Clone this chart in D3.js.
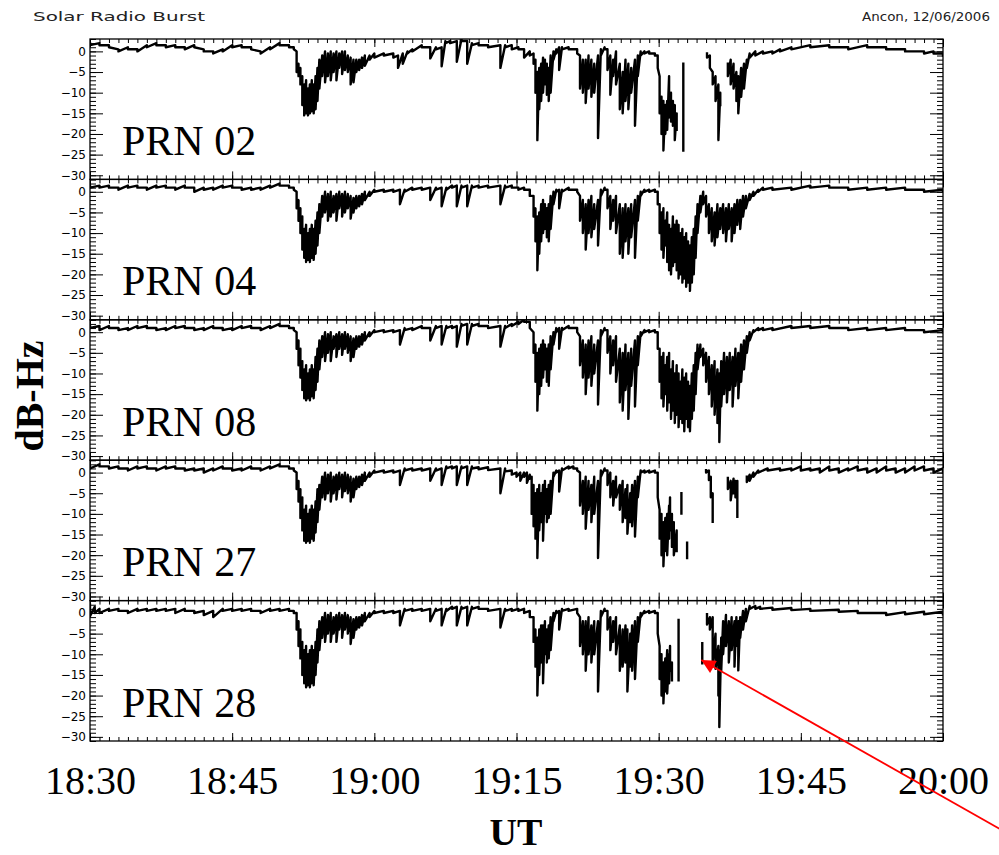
<!DOCTYPE html>
<html><head><meta charset="utf-8">
<script src="https://cdn.jsdelivr.net/npm/d3@7"></script>
<style>body{margin:0;background:#fff}svg{display:block}</style>
</head><body>
<svg id="c" width="999" height="855"></svg>
<script>
// ---- data (time in minutes after 18:30 UT; rows = [minute, upper dB-Hz, lower dB-Hz]; null = data gap)
const xTickMinutes = [0, 15, 30, 45, 60, 75, 90];
const xTickLabels = ["18:30", "18:45", "19:00", "19:15", "19:30", "19:45", "20:00"];
const yTickValues = [0, -5, -10, -15, -20, -25, -30];
const yDomain = [-31, 3];
const prnNames = ["PRN 02", "PRN 04", "PRN 08", "PRN 27", "PRN 28"];

const prn02 = [
[0,2,1.5],[1,2,1.5],[2,1.5,1],[3,0.5,0],[4,1,0.5],[5,0.5,0],[6,1.5,1],[7,2,1.5],[8,1.5,1],[9,1.5,1],[10,1,0.5],[11,1.5,1],[12,0.5,0],[13,0,-0.5],[14,0.5,0],[15,1.5,1],[16,1.5,1],[17,1,0.5],[18,0,-0.5],[19,1,0.5],[20,2,1.5],[21,1.5,1],[21.5,1,0.5],
[21.8,0,-5],[22,-3,-6],[22.2,-4,-8],[22.4,-6,-13],[22.6,-8,-15.5],[22.8,-7,-15],[23,-9,-15.5],[23.2,-8,-15],[23.4,-7,-14.5],[23.6,-8,-15],[23.8,-6,-14],[24,-4,-12],[24.2,-2,-9],[24.5,-1,-6],[24.8,0,-7.5],[25.1,-0.5,-6],[25.4,0,-7],[25.7,-0.5,-5],[26,0,-7],[26.3,-0.5,-4],[26.6,0,-5.5],[26.9,0,-4.5],[27.2,-1,-5],[27.5,-1.5,-8],[27.8,-2,-7.5],[28.1,-2,-5],[28.4,-2,-4.5],[28.7,-1.5,-4],[29,-1,-3.5],[29.5,-1,-2],[30,-0.5,-1.5],[31,-0.5,-1],[32,-0.5,-1.5],[32.5,-1,-4],[33,-0.5,-3],[33.5,0,-0.5],[34,0.5,0],[35,1.5,1],[35.9,1,-1.7],[36.5,1,0.5],[37.1,1,-3.6],[37.5,2.5,2],[38,2.5,2],[38.7,2.5,-2.5],[39.2,3,2.5],[39.8,2.5,-3],[40.3,2,1.5],[41,2,1.5],[42,1.5,1],[43.3,1.5,-4],[43.8,1.5,1],[44.5,1.5,0.5],[45.2,1,0.5],[45.8,0.5,-1.5],[46.4,0,-1],[46.8,-0.5,-3],[47,-2,-10],[47.2,-5,-21.5],[47.4,-4,-14],[47.6,-3,-12],[47.8,-1.5,-10],[48,-2,-8],[48.2,-3,-10.5],[48.4,-4,-12],[48.6,-1,-10],[48.9,0,-2],[49.2,0.5,-0.5],[49.5,1,-4.5],[49.8,1,0.5],[50.5,1,0.5],[51.4,0.5,-0.5],[51.7,-1,-9],[52,-2,-10],[52.3,-2,-12.5],[52.6,-1,-9],[52.9,-2,-11],[53.2,-3,-10],[53.6,-1,-21],[53.9,0.5,-1],[54.3,1,0.5],[54.6,0.5,-4.5],[54.9,-1,-10.5],[55.2,-2,-6],[55.5,0,-8],[55.9,-3,-14],[56.2,-5,-15],[56.5,-2,-12],[56.8,-3,-14],[57.1,-4,-10],[57.5,-2,-18],[57.8,-1,-6],[58.1,0,-1],[58.5,0,-0.5],[59,0,-0.5],[59.6,-0.5,-1],[59.9,-1,-4],[60.1,-6,-15],[60.3,-11,-20],[60.5,-12,-24],[60.7,-13,-20],[60.9,-12,-19],[61.1,-6,-16],[61.3,-10,-17],[61.5,-12,-18],[61.7,-13,-21.5],[61.9,-15,-19],null,
[62.6,-3,-24],null,
[65.1,-0.5,-1.5],[65.4,-1,-4],[65.7,-5,-8],[66,-6,-12],[66.3,-8,-21.5],[66.5,-10,-13],null,
[67.3,-3,-6],[67.6,-2,-8],[67.9,-3,-9],[68.2,-5,-12],[68.4,-6,-15],[68.7,-4,-11],[69,-3,-9],[69.3,-2,-4],[69.6,-0.5,-1.5],[70.2,0,-1],[71,0,-0.5],[72,0,-0.5],[72.8,0.5,0],[74,1,0.5],[76,1.5,1],[78,1.5,1],[80,1,0.5],[82,1.5,1],[84,1,0.5],[86,0.5,0],[88,0,-0.5],[89,0,-0.5],[90,-0.5,-1]
];

const prn04 = [
[0,1.5,1],[1,1.5,1],[2,1.5,1],[3,1,0.5],[4,1.5,1],[5,1.5,1],[6,1,0.5],[7,1.5,1],[8,1.5,1],[9,1,0.5],[10,1.5,1],[11,1,0],[12,1,0.5],[13,1,0.5],[14,1.5,1],[15,1.5,1],[16,1,0.5],[17,1,0.5],[18,1,0.5],[19,1.5,1],[20,2,1.5],[21,1.5,1],[21.5,1,0.5],
[21.8,0,-4],[22,-2,-7],[22.2,-4,-10],[22.4,-6,-14],[22.6,-9,-16],[22.8,-8,-17],[23,-10,-16.5],[23.2,-9,-17],[23.4,-8,-16],[23.6,-9,-16.5],[23.8,-7,-15],[24,-5,-13],[24.2,-3,-10],[24.5,-1,-6],[24.8,0,-5],[25.1,-0.5,-7],[25.4,0,-6],[25.7,-1,-5],[26,-0.5,-7],[26.3,0,-4],[26.6,-0.5,-6],[26.9,0,-5],[27.2,-0.5,-4],[27.5,-1,-6.5],[27.8,-1.5,-5],[28.1,-1,-4],[28.4,-1,-3.5],[28.7,-0.5,-3],[29,0,-2],[29.5,0,-1],[30,0.5,0],[31,0.5,0],[32,0.5,0],[32.7,0.5,-3],[33.2,0.5,0],[34,1,0.5],[35,1,0.5],[35.9,1,-2],[36.5,1,0.5],[37.1,1,-3.5],[37.6,1,0.5],[38.2,1.5,1],[38.7,1.5,-3.5],[39.2,1.5,1],[39.8,1.5,-3.5],[40.3,1.5,1],[41,1.5,1],[42,1.5,1],[43.3,1.5,-3],[43.8,1.5,1],[44.5,1.5,1],[45.2,1,0.5],[45.8,1,0.5],[46.4,0.5,-1],
[46.8,-1,-6],[47,-4,-12],[47.2,-6,-19],[47.4,-5,-15],[47.6,-3,-12],[47.8,-2,-10],[48,-3,-9],[48.2,-4,-11],[48.4,-3,-12],[48.6,-1,-9],[48.9,0,-3],[49.2,0.5,0],[49.5,0.5,-4],[49.8,0.5,0],[50.5,1,0.5],[51.4,0.5,0],[51.7,-1,-7],[52,-2,-10],[52.3,-3,-14],[52.6,-2,-10],[52.9,-1,-11],[53.2,-3,-9],[53.6,-2,-13],[53.9,0.5,-1],[54.3,1,0.5],[54.6,0.5,-4],[54.9,-1,-9],[55.2,-2,-7],[55.5,-1,-10],[55.9,-3,-15],[56.2,-4,-16],[56.5,-3,-12],[56.8,-4,-15],[57.1,-3,-11],[57.5,-2,-16],[57.8,-1,-7],[58.1,0,-1],[58.5,0.5,0],[59,0.5,0],[59.6,0.5,0],[59.9,0,-3],[60.1,-3,-10],[60.3,-5,-14],[60.5,-4,-16],[60.7,-7,-13],[60.9,-5,-17],[61.1,-8,-19],[61.3,-9,-20],[61.5,-6,-18],[61.7,-8,-17],[61.9,-7,-19],[62.1,-8,-21],[62.3,-10,-20],[62.5,-9,-22],[62.7,-11,-21],[62.9,-10,-23],[63.1,-12,-22],[63.3,-13,-24],[63.5,-11,-22],[63.7,-9,-20],[63.9,-6,-16],[64.1,-3,-10],[64.4,-1,-5],[64.7,0,-3],[65,-1,-6],[65.3,-3,-10],[65.6,-4,-12],[65.9,-5,-13],[66.2,-3,-11],[66.5,-4,-9],[66.8,-3,-10],[67.1,-4,-12],[67.4,-3,-9],[67.7,-4,-12],[68,-3,-10],[68.3,-2,-8],[68.6,-2,-9],[68.9,-1,-6],[69.2,-1,-4],[69.6,-0.5,-2],[70,0,-1],[70.5,0.5,0],[71,1,0.5],[72,1,0.5],[74,1,0.5],[76,1.5,1],[78,1.5,1],[80,1,0.5],[82,1,0.5],[84,1,0.5],[86,1,0.5],[88,0.5,0],[90,0.5,0]
];

const prn08 = [
[0,1.5,1],[1,1.5,0.5],[2,1.5,1],[3,1,0.5],[4,1,0.5],[5,1.5,1],[6,1.5,1],[7,1,0.5],[8,1,0.5],[9,1.5,1],[10,1.5,1],[11,1,0.5],[12,1,0.5],[13,1.5,1],[14,1,0.5],[15,1,0.5],[16,1.5,1],[17,1.5,1],[18,1,0.5],[19,1.5,1],[20,2,1.5],[21,1.5,1],[21.5,1,0.5],
[21.8,0,-4],[22,-2,-8],[22.2,-4,-11],[22.4,-7,-14],[22.6,-9,-16],[22.8,-8,-16.5],[23,-10,-16],[23.2,-9,-16.5],[23.4,-8,-15.5],[23.6,-9,-16],[23.8,-6,-14],[24,-4,-12],[24.2,-2,-9],[24.5,-1,-6],[24.8,0,-7],[25.1,-0.5,-5],[25.4,0,-7],[25.7,-1,-4],[26,-0.5,-6],[26.3,0,-4],[26.6,-0.5,-5.5],[26.9,0,-4],[27.2,-0.5,-5],[27.5,-1,-7],[27.8,-1.5,-6],[28.1,-1,-4],[28.4,-1,-3.5],[28.7,-0.5,-3],[29,0,-2],[29.5,0,-1],[30,0.5,0],[31,0.5,0],[32,0.5,0],[32.7,0.5,-3],[33.2,1,0.5],[34,1,0.5],[35,1.5,1],[35.9,1,-2],[36.5,1.5,1],[37.1,1.5,-3],[37.6,1.5,1],[38.2,1.5,1],[38.7,1.5,-3.5],[39.2,2,1.5],[39.8,2,-3],[40.3,2,1.5],[41,2,1.5],[42,1.5,1],[43.3,1.5,-3.5],[43.8,1.5,1],[44.5,2,1.5],[45.2,2.5,2],[45.8,3,2.5],[46.4,2.5,1],
[46.8,0,-5],[47,-3,-12],[47.2,-5,-19],[47.4,-4,-15],[47.6,-3,-13],[47.8,-2,-11],[48,-3,-9],[48.2,-4,-12],[48.4,-3,-13],[48.6,-1,-9],[48.9,0,-3],[49.2,1,0],[49.5,1,-4],[49.8,1,0.5],[50.5,1.5,1],[51.4,1,0],[51.7,-1,-8],[52,-2,-11],[52.3,-3,-15],[52.6,-2,-11],[52.9,-1,-13],[53.2,-3,-10],[53.6,-2,-17.5],[53.9,0.5,-1],[54.3,1,0.5],[54.6,0.5,-5],[54.9,-1,-10],[55.2,-2,-8],[55.5,-1,-12],[55.9,-4,-17],[56.2,-5,-19],[56.5,-3,-14],[56.8,-5,-21],[57.1,-4,-13],[57.5,-2,-18],[57.8,-1,-8],[58.1,0,-1],[58.5,0.5,0],[59,0.5,0],[59.6,0.5,0],[59.9,0,-4],[60.1,-4,-12],[60.3,-6,-16],[60.5,-5,-18],[60.7,-8,-15],[60.9,-6,-19],[61.1,-5,-17],[61.3,-9,-21],[61.5,-7,-19],[61.7,-10,-22],[61.9,-8,-20],[62.1,-10,-23],[62.3,-12,-21],[62.5,-9,-22],[62.7,-11,-24],[62.9,-10,-21],[63.1,-12,-23],[63.3,-13,-24],[63.5,-10,-21],[63.7,-8,-19],[63.9,-5,-15],[64.1,-3,-9],[64.4,-3,-6],[64.7,-4,-8],[65,-5,-12],[65.3,-6,-15],[65.6,-8,-18],[65.9,-7,-20],[66.2,-9,-22],[66.4,-10,-26.6],[66.6,-7,-18],[66.9,-5,-15],[67.2,-6,-17],[67.5,-5,-14],[67.8,-6,-18],[68.1,-4,-13],[68.4,-5,-16],[68.7,-3,-12],[69,-2,-9],[69.3,-1,-5],[69.6,0,-2],[70,0.5,0],[70.5,1,0.5],[71,1,0.5],[72,1,0.5],[74,1.5,1],[76,1.5,1],[78,1.5,1],[80,1,0.5],[82,1,0.5],[84,1,0.5],[86,1,0.5],[88,0.5,0],[90,0.5,0]
];

const prn27 = [
[0,1.5,1],[1,2,1.5],[2,1.5,1],[3,1.5,1],[4,1,0.5],[5,1.5,1],[6,1.5,1],[7,1,0.5],[8,1.5,1],[9,1.5,1],[10,1,0.5],[11,1,0.5],[12,1,0],[13,1,0.5],[14,1.5,1],[15,1,0.5],[16,1,0.5],[17,1.5,1],[18,1,0.5],[19,1.5,1],[20,2,1.5],[21,1.5,1],[21.5,1,0.5],
[21.8,0,-4],[22,-2,-7],[22.2,-4,-11],[22.4,-6,-14],[22.6,-9,-16.5],[22.8,-8,-17],[23,-10,-16.5],[23.2,-9,-17],[23.4,-8,-16],[23.6,-9,-16.5],[23.8,-7,-14.5],[24,-4,-12],[24.2,-3,-9],[24.5,-1,-6],[24.8,0,-6.5],[25.1,-0.5,-5],[25.4,0,-7],[25.7,-1,-5],[26,-0.5,-6.5],[26.3,0,-4],[26.6,-0.5,-6],[26.9,0,-4.5],[27.2,-0.5,-5],[27.5,-1,-7],[27.8,-1.5,-6],[28.1,-1,-4],[28.4,-1,-3.5],[28.7,-0.5,-3],[29,0,-2],[29.5,0,-1],[30,0.5,0],[31,0.5,0],[32,0.5,0],[32.7,0.5,-3],[33.2,1,0.5],[34,1,0.5],[35,1,0.5],[35.9,1,-2],[36.5,1,0.5],[37.1,1,-3],[37.6,1.5,1],[38.2,1.5,1],[38.7,1.5,-3],[39.2,1.5,1],[39.8,1.5,-3],[40.3,1.5,1],[41,1.3,0.8],[42,1.3,0.6],[43.3,1,-5],[43.8,1,0.3],[44.5,0.5,-0.5],[45,0,-1],[45.4,0,-2],[45.8,0,-1],[46.1,0,-2.5],[46.4,-0.5,-1.5],
[46.6,-1,-10],[46.8,-3,-13],[47,-5,-16],[47.2,-4,-20.7],[47.4,-3,-14],[47.6,-5,-12],[47.8,-3,-16.5],[48,-2,-10],[48.2,-4,-12],[48.4,-3,-11],[48.6,-2,-10],[48.9,0,-1],[49.2,0.5,0],[49.5,0.5,-4.6],[49.8,1,0.5],[50.5,1.5,1],[51,1.5,1],[51.4,1,0.5],[51.7,0,-8],[52,-2,-10],[52.3,-1,-13.6],[52.6,-2,-9],[52.9,-3,-12],[53.2,-1,-10],[53.6,-2,-20.7],[53.9,0.5,-1],[54.3,1,0.5],[54.6,0.5,-3],[54.9,0,-6],[55.2,-2,-8],[55.5,-1,-6],[55.9,-3,-9],[56.2,-2,-12],[56.5,-4,-11],[56.7,-3,-14.8],[57,-5,-12],[57.2,-3,-13],[57.5,-2,-15.5],[57.8,-1,-6],[58.1,0.5,0],[58.5,0.5,0],[59,0.5,0],[59.6,0.5,0],[59.9,0,-6],[60.1,-9,-16],[60.3,-10,-20],[60.5,-12,-22.7],[60.7,-11,-19],[60.9,-10,-20],[61.1,-8,-16],[61.2,-6,-14],[61.4,-10,-18],[61.6,-12,-20],[61.9,-14,-19],null,
[62.4,-5,-9.9],null,
[63,-17,-20.7],null,
[65,0.6,0],[65.3,0.5,-1.8],[65.5,-1,-6],[65.7,-5,-11.9],null,
[67.3,-1.3,-4],[67.6,-2,-6.7],[67.9,-1.5,-5],[68.1,-2,-6],[68.3,-2,-10.7],null,
[69.3,-1,-2.3],[69.6,-0.5,-2],[70,0,-1],[70.5,0.5,0],[71.5,1,0.5],[72.8,1,0.5],[74,1,0.5],[75,1.5,0.5],[76,1,0.5],[77,1,0],[78,1.5,0.5],[79,1,0],[80,1,0.5],[81,1.5,0.5],[82,1,0],[83,1,0],[84,1.5,0.5],[85,1,0],[86,1,0],[87,1.5,0.5],[88,1.5,0.5],[89,1,0],[90,1,0]
];

const prn28 = [
[0,2,-0.8],[0.5,1.5,0],[1,1,0],[2,1,0.5],[3,1,0.5],[4,0.5,0],[5,1,0.5],[6,1,0.5],[7,1,0.5],[8,1,0.5],[9,1,0],[10,1,0.5],[11,0.5,0],[12,0.5,-0.5],[13,0.5,-1],[14,1,0.5],[15,1,0.5],[16,1,0.5],[17,1,0.5],[18,0.5,0],[19,1,0.5],[20,1,0.5],[21,1,0.5],[21.5,0.5,0],
[21.8,0,-4],[22,-2,-8],[22.2,-4,-11],[22.4,-7,-15],[22.6,-9,-17],[22.8,-8,-18],[23,-10,-17.5],[23.2,-9,-18],[23.4,-8,-17],[23.6,-9,-17.5],[23.8,-7,-15],[24,-4,-12],[24.2,-2,-9],[24.5,-1,-6],[24.8,0,-7],[25.1,-0.5,-5],[25.4,0,-7],[25.7,-1,-5],[26,-0.5,-7],[26.3,0,-4],[26.6,-0.5,-6],[26.9,0,-4],[27.2,-0.5,-5],[27.5,-1,-7.5],[27.8,-1.5,-6],[28.1,-1,-4],[28.4,-1,-3.5],[28.7,-0.5,-3],[29,0,-2],[29.5,0,-1],[30,0.5,0],[31,0.5,0],[32,0.5,0],[32.7,0.5,-3],[33.2,1,0.5],[34,1,0.5],[35,1,0.5],[35.9,1,-2],[36.5,1,0.5],[37.1,1,-3],[37.6,1,0.5],[38.2,1.5,1],[38.7,1.5,-3],[39.2,1.5,1],[39.8,1.5,-3],[40.3,1.5,1],[41,1.5,1],[42,1,0.5],[43.3,1,-3.5],[43.8,1,0.5],[44.5,1,0.5],[45.2,1,0.5],[45.8,1,0],[46.4,0.5,-1],
[46.8,-1,-7],[47,-4,-13],[47.2,-6,-20],[47.4,-4,-15],[47.6,-3,-12],[47.8,-3,-17],[48,-2,-10],[48.2,-4,-12],[48.4,-3,-11],[48.6,-1,-9],[48.9,0,-2],[49.2,0.5,0],[49.5,0.5,-4],[49.8,1,0.5],[50.5,1,0.5],[51.4,1,0],[51.7,-1,-8],[52,-2,-10],[52.3,-2,-14],[52.6,-1,-10],[52.9,-3,-12],[53.2,-2,-10],[53.6,-2,-19],[53.9,0.5,-1],[54.3,1,0.5],[54.6,0.5,-4],[54.9,-1,-9],[55.2,-2,-7],[55.5,-1,-10],[55.9,-3,-14],[56.2,-4,-13],[56.5,-3,-12],[56.7,-4,-19],[57,-5,-13],[57.2,-3,-14],[57.5,-2,-16],[57.8,-1,-7],[58.1,0,-1],[58.5,0.5,0],[59,0.5,0],[59.6,0.5,0],[59.9,0,-5],[60.1,-8,-16],[60.3,-10,-20],[60.5,-12,-21.9],[60.7,-11,-19],[60.9,-9,-19.5],[61.1,-10,-17],[61.2,-8,-14],[61.4,-12,-16.3],null,
[62.1,-1.7,-16.3],null,
[64.6,-7.3,-12.2],null,
[65.1,-0.3,-2.8],[65.4,-1,-4],[65.7,-1,-12],[66,-5,-13.5],[66.3,-8,-20],[66.4,-9,-27.6],[66.6,-6,-14],[66.8,-2,-10],[67.1,-0.5,-8],[67.4,-2,-12],[67.7,-1,-9],[68,-2,-13],[68.2,-1,-8],[68.4,-2,-13.9],[68.6,-1,-6],[68.9,0.5,-4],[69.2,1,-2],[69.6,1.7,1],[70.2,1.7,1],[70.7,1.5,1],[72,1.3,0.8],[74,1.2,0.7],[76,1,0.5],[79,0.8,0.3],[81,0.5,0],[84,0,-0.5],[86,0.2,-0.3],[88,0.3,-0.3],[90,0.3,-0.3]
];

const seriesList = [prn02, prn04, prn08, prn27, prn28];
const headerLeft = "Solar Radio Burst";
const headerRight = "Ancon, 12/06/2006";
const xTitle = "UT";
const yTitle = "dB-Hz";
// annotation arrow in PRN 28 panel data coordinates [minute, dB-Hz]
const arrowFrom = [97, -53.6];
const arrowTo = [64.5, -11.4];

// ---- layout
const svg = d3.select("#c");
const plotLeft = 90, plotRight = 943, plotTop = 39, panelHeight = 140.4;
const x = d3.scaleLinear().domain([0, 90]).range([plotLeft, plotRight]);
const minorX = d3.range(0, 91);
const minorY = d3.range(-31, 4);

svg.append("rect").attr("width", 999).attr("height", 855).attr("fill", "#fff");

const defs = svg.append("defs");
defs.append("marker").attr("id", "ah").attr("viewBox", "0 0 10 10")
  .attr("refX", 10).attr("refY", 5).attr("markerUnits", "userSpaceOnUse")
  .attr("markerWidth", 19).attr("markerHeight", 14).attr("orient", "auto")
  .append("path").attr("d", "M0,0L10,5L0,10Z").attr("fill", "#ff0000");

function styleAxis(g) {
  g.select(".domain").remove();
  g.selectAll(".tick line").attr("stroke", "#000").attr("stroke-width", 1);
}

let lastY = null;
seriesList.forEach((rows, i) => {
  const top = plotTop + i * panelHeight;
  const bottom = top + panelHeight;
  const y = d3.scaleLinear().domain(yDomain).range([bottom, top]);
  lastY = y;
  const g = svg.append("g");

  defs.append("clipPath").attr("id", "clip" + i).append("rect")
    .attr("x", plotLeft).attr("y", top).attr("width", plotRight - plotLeft).attr("height", panelHeight);

  const pts = [];
  rows.forEach(r => {
    if (r === null) pts.push(null);
    else { pts.push([r[0], r[1]]); pts.push([r[0], r[2]]); }
  });
  const line = d3.line().defined(d => d !== null).x(d => x(d[0])).y(d => y(d[1]));
  g.append("path").attr("d", line(pts)).attr("fill", "none").attr("stroke", "#000")
    .attr("stroke-width", 2.4).attr("stroke-linejoin", "round").attr("stroke-linecap", "square")
    .attr("clip-path", `url(#clip${i})`);

  // y ticks
  g.append("g").attr("transform", `translate(${plotLeft},0)`)
    .call(d3.axisLeft(y).tickValues(minorY).tickSize(-6).tickSizeOuter(0).tickFormat("")).call(styleAxis);
  const yl = g.append("g").attr("transform", `translate(${plotLeft},0)`)
    .call(d3.axisLeft(y).tickValues(yTickValues).tickSize(-13).tickSizeOuter(0).tickPadding(4).tickFormat(d3.format("d")))
    .call(styleAxis);
  yl.selectAll("text").attr("font-family", "DejaVu Sans").attr("font-size", 12).attr("fill", "#000");
  g.append("g").attr("transform", `translate(${plotRight},0)`)
    .call(d3.axisRight(y).tickValues(minorY).tickSize(-6).tickSizeOuter(0).tickFormat("")).call(styleAxis);
  g.append("g").attr("transform", `translate(${plotRight},0)`)
    .call(d3.axisRight(y).tickValues(yTickValues).tickSize(-13).tickSizeOuter(0).tickFormat("")).call(styleAxis);

  // x ticks top & bottom
  g.append("g").attr("transform", `translate(0,${top})`)
    .call(d3.axisTop(x).tickValues(minorX).tickSize(-4).tickSizeOuter(0).tickFormat("")).call(styleAxis);
  g.append("g").attr("transform", `translate(0,${top})`)
    .call(d3.axisTop(x).tickValues(xTickMinutes).tickSize(-8).tickSizeOuter(0).tickFormat("")).call(styleAxis);
  g.append("g").attr("transform", `translate(0,${bottom})`)
    .call(d3.axisBottom(x).tickValues(minorX).tickSize(-4).tickSizeOuter(0).tickFormat("")).call(styleAxis);
  g.append("g").attr("transform", `translate(0,${bottom})`)
    .call(d3.axisBottom(x).tickValues(xTickMinutes).tickSize(-8).tickSizeOuter(0).tickFormat("")).call(styleAxis);

  g.append("rect").attr("x", plotLeft).attr("y", top).attr("width", plotRight - plotLeft)
    .attr("height", panelHeight).attr("fill", "none").attr("stroke", "#000").attr("stroke-width", 1.3);

  g.append("text").attr("x", plotLeft + 32).attr("y", top + 116).text(prnNames[i])
    .attr("font-family", "Liberation Serif, Times New Roman, serif").attr("font-size", 42).attr("fill", "#000");

  if (i === seriesList.length - 1) {
    const xl = g.append("g").attr("transform", `translate(0,${bottom})`)
      .call(d3.axisBottom(x).tickValues(xTickMinutes).tickSize(0).tickPadding(25)
        .tickFormat((d, k) => xTickLabels[k]));
    xl.select(".domain").remove();
    xl.selectAll("text").attr("font-family", "Liberation Serif, Times New Roman, serif")
      .attr("font-size", 40).attr("fill", "#000");
  }
});

// titles
svg.append("text").attr("x", 33).attr("y", 21).text(headerLeft)
  .attr("font-family", "DejaVu Sans").attr("font-size", 13).attr("fill", "#222")
  .attr("textLength", 172).attr("lengthAdjust", "spacingAndGlyphs");
svg.append("text").attr("x", 990).attr("y", 21).attr("text-anchor", "end").text(headerRight)
  .attr("font-family", "DejaVu Sans").attr("font-size", 13).attr("fill", "#222")
  .attr("textLength", 128).attr("lengthAdjust", "spacingAndGlyphs");
svg.append("text").attr("x", 516).attr("y", 845).attr("text-anchor", "middle").text(xTitle)
  .attr("font-family", "Liberation Serif, Times New Roman, serif").attr("font-weight", "bold")
  .attr("font-size", 38).attr("fill", "#000");
svg.append("text").attr("transform", "translate(43,396) rotate(-90)").attr("text-anchor", "middle").text(yTitle)
  .attr("font-family", "Liberation Serif, Times New Roman, serif").attr("font-weight", "bold")
  .attr("font-size", 40).attr("fill", "#000");

// annotation arrow
svg.append("line")
  .attr("x1", x(arrowFrom[0])).attr("y1", lastY(arrowFrom[1]))
  .attr("x2", x(arrowTo[0])).attr("y2", lastY(arrowTo[1]))
  .attr("stroke", "#ff0000").attr("stroke-width", 1.8).attr("marker-end", "url(#ah)");
</script>
</body></html>
